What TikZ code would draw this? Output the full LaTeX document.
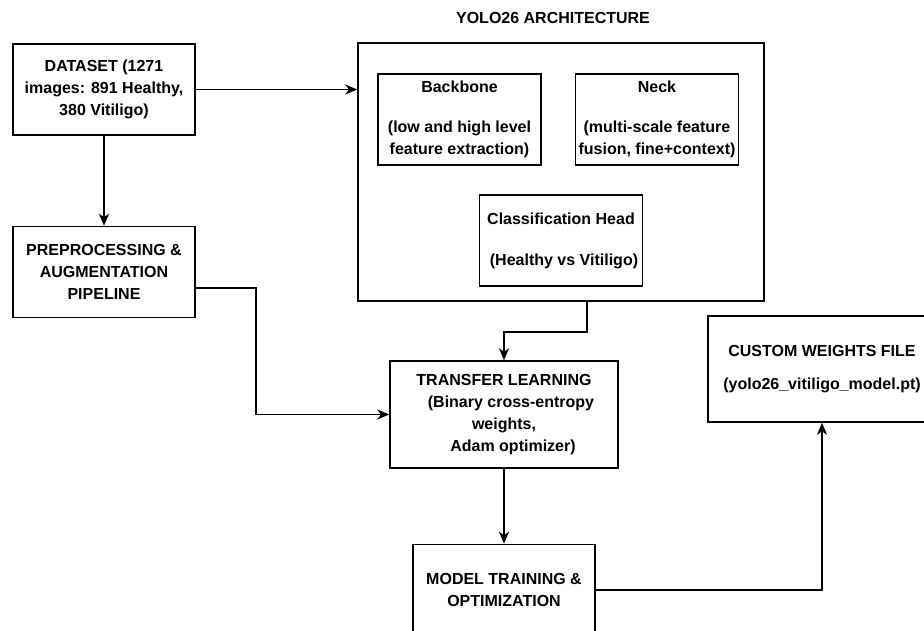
\documentclass[tikz,border=0pt]{standalone}
\usepackage{fontspec}
\setmainfont{Liberation Sans}
\usetikzlibrary{positioning,arrows.meta}
\tikzset{block/.style={rectangle,draw,line width=1.5pt,align=center,inner sep=2pt,minimum width=182pt,minimum height=91pt},
	inner block/.style={block,minimum width=163pt},
	wide block/.style={block,minimum width=228pt,minimum height=107pt},
	flow/.style={line width=1.5pt,-{Stealth[length=12pt,width=10pt,inset=3.5pt]}},
}

\begin{document}
\begin{tikzpicture}[x=1pt,y=1pt,font=\fontsize{16}{22}\selectfont\bfseries]
	\useasboundingbox (0,0) rectangle (924,-631);
	\node[block] (dataset) at (104,-89.5) {DATASET (1271\\images: 891 Healthy,\\380 Vitiligo)};
	\node[block] (prep) [below = 90pt of dataset] {PREPROCESSING \&\\AUGMENTATION\\PIPELINE};
	
	% YOLO26 architecture
	\node[block,minimum width=406pt,minimum height=258pt] (yolo) at (561,-172) {};
	\node (title) at (553,-18) {YOLO26 ARCHITECTURE};
	\node[inner block,anchor=north west] (backbone) at ([xshift=20pt,yshift=-31pt]yolo.north west) {Backbone\\[18pt](low and high level\\feature extraction)};
	\node[inner block] (neck) [right = 33pt of backbone] {Neck\\[18pt](multi-scale feature\\fusion, fine+context)};
	\node[inner block] (head) [above = 15pt of yolo.south] {Classification Head\\[19pt]\hspace*{6pt}(Healthy vs Vitiligo)};
	
	\node[wide block] (transfer) at (504,-414.5) {TRANSFER LEARNING\\\hspace*{14pt}(Binary cross-entropy\\weights,\\\hspace*{18pt}Adam optimizer)};
	\node[block] (training) [below = 75pt of transfer] {MODEL TRAINING \&\\OPTIMIZATION};
	\node[wide block,minimum height=106pt] (weights) at (822,-369) {CUSTOM WEIGHTS FILE\\[11pt](yolo26\_vitiligo\_model.pt)};
	
	\draw[flow] (dataset) -- (dataset -| yolo.west);
	\draw[flow] (dataset) -- (prep);
	\draw[flow] ([yshift=-16pt]prep.east) -- ++(60pt,0) |- (transfer.west);
	\draw[flow] ([xshift=26pt]yolo.south) -- ++(0,-30pt) -| (transfer.north);
	\draw[flow] (transfer) -- (training);
	\draw[flow] (training.east) -| (weights.south);
\end{tikzpicture}
\end{document}
